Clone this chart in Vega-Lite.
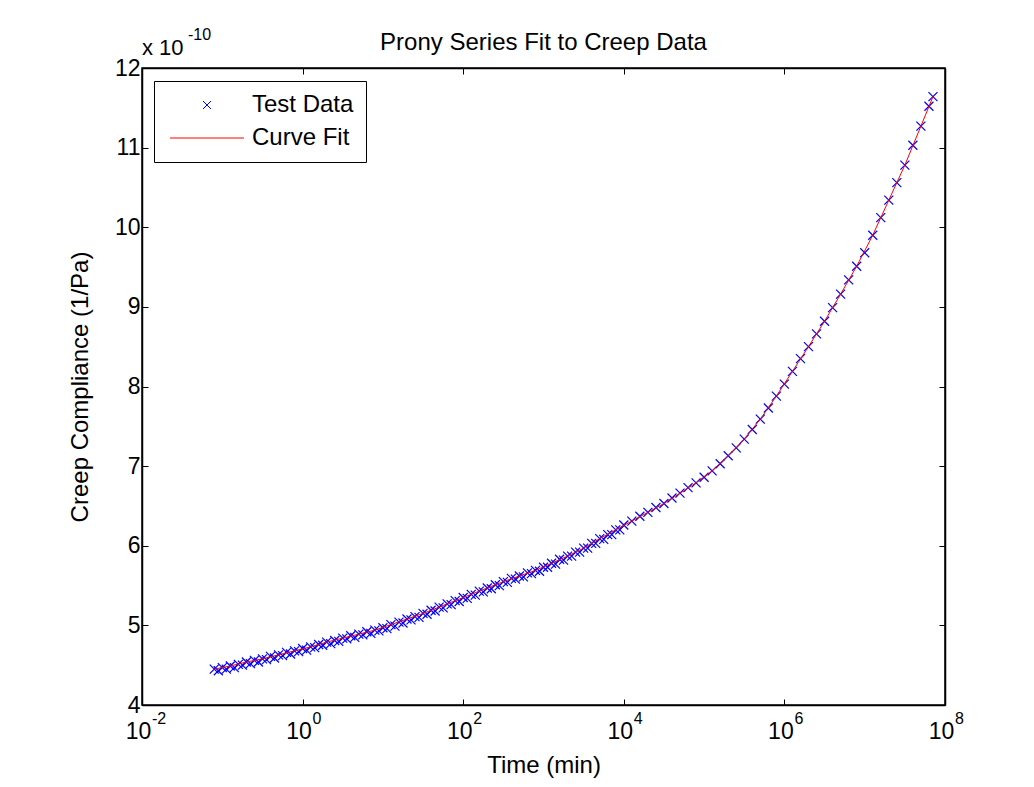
{
  "$schema": "https://vega.github.io/schema/vega-lite/v6.json",
  "width": 803,
  "height": 637,
  "autosize": {"type": "none"},
  "padding": {"left": 142, "top": 68, "right": 89, "bottom": 82},
  "background": "white",
  "title": {"text": "Prony Series Fit to Creep Data", "fontSize": 24, "font": "Liberation Sans", "fontWeight": "normal", "color": "black", "offset": -28},
  "config": {
    "font": "Liberation Sans",
    "view": {"stroke": "black", "strokeWidth": 1.5},
    "axis": {"grid": false, "domainColor": "black", "domainWidth": 1.5, "tickColor": "black", "tickSize": -6, "tickWidth": 1, "labelColor": "black", "labelFontSize": 23, "labelFont": "Liberation Sans", "titleFont": "Liberation Sans", "titleFontSize": 24, "titleFontWeight": "normal", "titleColor": "black", "labelFlush": false, "labelOverlap": false}
  },
  "datasets": {
    "pts": [
      {"t": 0.07943, "v": 4.45}, {"t": 0.1, "v": 4.47}, {"t": 0.1259, "v": 4.49}, {"t": 0.1585, "v": 4.51}, {"t": 0.1995, "v": 4.54}, {"t": 0.2512, "v": 4.56}, {"t": 0.3162, "v": 4.58}, {"t": 0.3981, "v": 4.61}, {"t": 0.5012, "v": 4.63}, {"t": 0.631, "v": 4.66}, {"t": 0.7943, "v": 4.68},
      {"t": 1, "v": 4.71}, {"t": 1.259, "v": 4.73}, {"t": 1.585, "v": 4.76}, {"t": 1.995, "v": 4.79}, {"t": 2.512, "v": 4.81}, {"t": 3.162, "v": 4.84}, {"t": 3.981, "v": 4.87}, {"t": 5.012, "v": 4.89}, {"t": 6.31, "v": 4.92}, {"t": 7.943, "v": 4.94},
      {"t": 10, "v": 4.97}, {"t": 12.59, "v": 5.01}, {"t": 15.85, "v": 5.04}, {"t": 19.95, "v": 5.08}, {"t": 25.12, "v": 5.11}, {"t": 31.62, "v": 5.15}, {"t": 39.81, "v": 5.19}, {"t": 50.12, "v": 5.23}, {"t": 63.1, "v": 5.27}, {"t": 79.43, "v": 5.31},
      {"t": 100, "v": 5.35}, {"t": 125.9, "v": 5.39}, {"t": 158.5, "v": 5.43}, {"t": 199.5, "v": 5.47}, {"t": 251.2, "v": 5.51}, {"t": 316.2, "v": 5.55}, {"t": 398.1, "v": 5.59}, {"t": 501.2, "v": 5.62}, {"t": 631, "v": 5.66}, {"t": 794.3, "v": 5.69},
      {"t": 1000, "v": 5.73}, {"t": 1259, "v": 5.78}, {"t": 1585, "v": 5.83}, {"t": 1995, "v": 5.87}, {"t": 2512, "v": 5.92}, {"t": 3162, "v": 5.97}, {"t": 3981, "v": 6.03}, {"t": 5012, "v": 6.09}, {"t": 6310, "v": 6.14}, {"t": 7943, "v": 6.2},
      {"t": 10000, "v": 6.26}, {"t": 12590, "v": 6.31}, {"t": 15850, "v": 6.37}, {"t": 19950, "v": 6.42}, {"t": 25120, "v": 6.48}, {"t": 31620, "v": 6.53}, {"t": 39810, "v": 6.6}, {"t": 50120, "v": 6.66}, {"t": 63100, "v": 6.73}, {"t": 79430, "v": 6.79},
      {"t": 100000, "v": 6.86}, {"t": 125900, "v": 6.94}, {"t": 158500, "v": 7.03}, {"t": 199500, "v": 7.13}, {"t": 251200, "v": 7.23}, {"t": 316200, "v": 7.34}, {"t": 398100, "v": 7.46}, {"t": 501200, "v": 7.59}, {"t": 631000, "v": 7.73}, {"t": 794300, "v": 7.88},
      {"t": 1000000, "v": 8.03}, {"t": 1259000, "v": 8.19}, {"t": 1585000, "v": 8.35}, {"t": 1995000, "v": 8.5}, {"t": 2512000, "v": 8.66}, {"t": 3162000, "v": 8.82}, {"t": 3981000, "v": 8.99}, {"t": 5012000, "v": 9.16}, {"t": 6310000, "v": 9.34}, {"t": 7943000, "v": 9.51},
      {"t": 10000000, "v": 9.68}, {"t": 12590000, "v": 9.9}, {"t": 15850000, "v": 10.12}, {"t": 19950000, "v": 10.34}, {"t": 25120000, "v": 10.56}, {"t": 31620000, "v": 10.78}, {"t": 39810000, "v": 11.03}, {"t": 50120000, "v": 11.27}, {"t": 63100000, "v": 11.52}, {"t": 70790000, "v": 11.64},
      {"t": 0.08913, "v": 4.43}, {"t": 0.1122, "v": 4.45}, {"t": 0.1413, "v": 4.47}, {"t": 0.1778, "v": 4.5}, {"t": 0.2239, "v": 4.52}, {"t": 0.2818, "v": 4.54}, {"t": 0.3548, "v": 4.57}, {"t": 0.4467, "v": 4.59}, {"t": 0.5623, "v": 4.62}, {"t": 0.7079, "v": 4.64}, {"t": 0.8913, "v": 4.67},
      {"t": 1.122, "v": 4.69}, {"t": 1.413, "v": 4.72}, {"t": 1.778, "v": 4.75}, {"t": 2.239, "v": 4.77}, {"t": 2.818, "v": 4.8}, {"t": 3.548, "v": 4.83}, {"t": 4.467, "v": 4.85}, {"t": 5.623, "v": 4.88}, {"t": 7.079, "v": 4.9}, {"t": 8.913, "v": 4.93},
      {"t": 11.22, "v": 4.96}, {"t": 14.13, "v": 4.99}, {"t": 17.78, "v": 5.03}, {"t": 22.39, "v": 5.07}, {"t": 28.18, "v": 5.1}, {"t": 35.48, "v": 5.14}, {"t": 44.67, "v": 5.18}, {"t": 56.23, "v": 5.22}, {"t": 70.79, "v": 5.26}, {"t": 89.13, "v": 5.3},
      {"t": 112.2, "v": 5.34}, {"t": 141.3, "v": 5.38}, {"t": 177.8, "v": 5.42}, {"t": 223.9, "v": 5.46}, {"t": 281.8, "v": 5.5}, {"t": 354.8, "v": 5.54}, {"t": 446.7, "v": 5.58}, {"t": 562.3, "v": 5.61}, {"t": 707.9, "v": 5.65}, {"t": 891.3, "v": 5.68},
      {"t": 1122, "v": 5.73}, {"t": 1413, "v": 5.77}, {"t": 1778, "v": 5.82}, {"t": 2239, "v": 5.87}, {"t": 2818, "v": 5.92}, {"t": 3548, "v": 5.97}, {"t": 4467, "v": 6.03}, {"t": 5623, "v": 6.08}, {"t": 7079, "v": 6.14}, {"t": 8913, "v": 6.2}
    ],
    "fit": [
      {"t": 0.07943, "v": 4.45}, {"t": 0.1259, "v": 4.49}, {"t": 0.1995, "v": 4.54}, {"t": 0.3162, "v": 4.58}, {"t": 0.5012, "v": 4.63}, {"t": 0.7943, "v": 4.68},
      {"t": 1.259, "v": 4.73}, {"t": 1.995, "v": 4.79}, {"t": 3.162, "v": 4.84}, {"t": 5.012, "v": 4.89}, {"t": 7.943, "v": 4.94},
      {"t": 12.59, "v": 5.01}, {"t": 19.95, "v": 5.08}, {"t": 31.62, "v": 5.15}, {"t": 50.12, "v": 5.23}, {"t": 79.43, "v": 5.31},
      {"t": 125.9, "v": 5.39}, {"t": 199.5, "v": 5.47}, {"t": 316.2, "v": 5.55}, {"t": 501.2, "v": 5.62}, {"t": 794.3, "v": 5.69},
      {"t": 1259, "v": 5.78}, {"t": 1995, "v": 5.87}, {"t": 3162, "v": 5.97}, {"t": 5012, "v": 6.09}, {"t": 7943, "v": 6.2},
      {"t": 12590, "v": 6.31}, {"t": 19950, "v": 6.42}, {"t": 31620, "v": 6.53}, {"t": 50120, "v": 6.66}, {"t": 79430, "v": 6.79},
      {"t": 125900, "v": 6.94}, {"t": 199500, "v": 7.13}, {"t": 316200, "v": 7.34}, {"t": 501200, "v": 7.59}, {"t": 794300, "v": 7.88},
      {"t": 1259000, "v": 8.19}, {"t": 1995000, "v": 8.5}, {"t": 3162000, "v": 8.82}, {"t": 5012000, "v": 9.16}, {"t": 7943000, "v": 9.51},
      {"t": 12590000, "v": 9.9}, {"t": 19950000, "v": 10.34}, {"t": 31620000, "v": 10.78}, {"t": 50120000, "v": 11.27}, {"t": 70790000, "v": 11.64}
    ],
    "exps": [
      {"t": 0.01, "e": "-2"}, {"t": 1, "e": "0"}, {"t": 100, "e": "2"}, {"t": 10000, "e": "4"}, {"t": 1000000, "e": "6"}, {"t": 100000000, "e": "8"}
    ]
  },
  "layer": [
    {
      "data": {"name": "pts"},
      "mark": {"type": "point", "filled": false, "strokeWidth": 1.2, "size": 81, "opacity": 1, "clip": true},
      "encoding": {
        "x": {"field": "t", "type": "quantitative", "scale": {"type": "log", "domain": [0.01, 100000000], "nice": false},
          "axis": {"orient": "bottom", "values": [0.01, 1, 100, 10000, 1000000, 100000000], "labelExpr": "'10'", "labelOffset": -4, "labelPadding": 21, "title": "Time (min)", "titlePadding": 10}},
        "y": {"field": "v", "type": "quantitative", "scale": {"domain": [4, 12], "nice": false, "zero": false},
          "axis": {"orient": "left", "values": [4, 5, 6, 7, 8, 9, 10, 11, 12], "labelPadding": 8, "title": "Creep Compliance (1/Pa)", "titlePadding": 22}},
        "color": {"datum": "Test Data", "scale": {"domain": ["Test Data", "Curve Fit"], "range": ["#0000FF", "#FF0000"]},
          "legend": {"orient": "none", "legendX": 12, "legendY": 13, "title": null, "symbolSize": 64, "symbolStrokeWidth": 1, "symbolOffset": 29, "labelFontSize": 24, "labelColor": "black", "labelFont": "Liberation Sans", "labelOffset": 33, "padding": 12, "rowPadding": 9, "strokeColor": "black", "fillColor": "white", "cornerRadius": 0}},
        "shape": {"datum": "Test Data", "scale": {"domain": ["Test Data", "Curve Fit"], "range": ["M-1,-1L1,1M-1,1L1,-1", "M-9.25,0L9.25,0"]},
          "legend": {"orient": "none", "legendX": 12, "legendY": 13, "title": null, "symbolSize": 64, "symbolStrokeWidth": 1, "symbolOffset": 29, "labelFontSize": 24, "labelColor": "black", "labelFont": "Liberation Sans", "labelOffset": 33, "padding": 12, "rowPadding": 9, "strokeColor": "black", "fillColor": "white", "cornerRadius": 0}}
      }
    },
    {
      "data": {"name": "fit"},
      "mark": {"type": "line", "strokeWidth": 1, "clip": true},
      "encoding": {
        "x": {"field": "t", "type": "quantitative", "axis": {"orient": "top", "values": [0.01, 1, 100, 10000, 1000000, 100000000], "labels": false, "title": null}},
        "y": {"field": "v", "type": "quantitative", "axis": {"orient": "right", "values": [4, 5, 6, 7, 8, 9, 10, 11, 12], "labels": false, "title": null}},
        "color": {"datum": "Curve Fit", "legend": null}
      }
    },
    {
      "data": {"name": "exps"},
      "mark": {"type": "text", "align": "left", "baseline": "alphabetic", "dx": 10, "dy": 19, "fontSize": 16, "color": "black", "font": "Liberation Sans"},
      "encoding": {
        "x": {"field": "t", "type": "quantitative", "axis": null},
        "y": {"datum": 4, "axis": null},
        "text": {"field": "e"}
      }
    },
    {
      "data": {"values": [{}]},
      "mark": {"type": "text", "align": "left", "baseline": "alphabetic", "dx": 0, "dy": -13, "fontSize": 22, "color": "black", "font": "Liberation Sans", "text": "x 10"},
      "encoding": {"x": {"datum": 0.01, "axis": null}, "y": {"datum": 12, "axis": null}}
    },
    {
      "data": {"values": [{}]},
      "mark": {"type": "text", "align": "left", "baseline": "alphabetic", "dx": 46, "dy": -28, "fontSize": 16, "color": "black", "font": "Liberation Sans", "text": "-10"},
      "encoding": {"x": {"datum": 0.01, "axis": null}, "y": {"datum": 12, "axis": null}}
    }
  ],
  "resolve": {"axis": {"x": "independent", "y": "independent"}}
}
